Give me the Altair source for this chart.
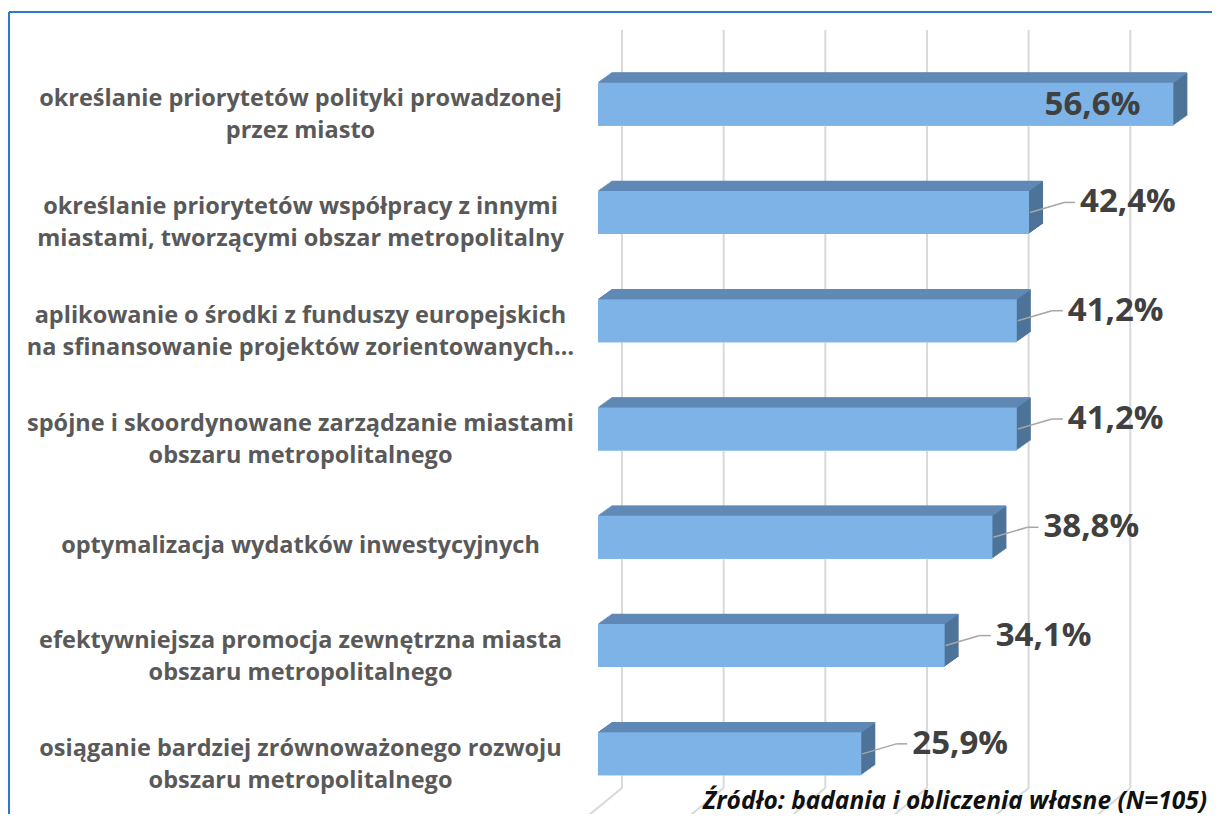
import altair as alt
import pandas as pd

categories = [
    "określanie priorytetów polityki prowadzonej|przez miasto",
    "określanie priorytetów współpracy z innymi|miastami, tworzącymi obszar metropolitalny",
    "aplikowanie o środki z funduszy europejskich|na sfinansowanie projektów zorientowanych…",
    "spójne i skoordynowane zarządzanie miastami |obszaru metropolitalnego",
    "optymalizacja wydatków inwestycyjnych",
    "efektywniejsza promocja zewnętrzna miasta|obszaru metropolitalnego",
    "osiąganie bardziej zrównoważonego rozwoju|obszaru metropolitalnego",
]
values = [56.6, 42.4, 41.2, 41.2, 38.8, 34.1, 25.9]
grid_ticks = [0, 10, 20, 30, 40, 50]
source_text = ["Źródło: badania i obliczenia własne (N=105)"]

df = pd.DataFrame({"cat": categories, "value": values})
ticks = pd.DataFrame({"tick": grid_ticks})
src = pd.DataFrame({"t": source_text})

W, H = 614, 758
FRONT = "#7db3e7"
TOP = "#6089b6"
SIDE = "#4d7398"
BAR_H = 43
D, DH = 14, 10
N = 10

xs = alt.Scale(domain=[0, 60.4], nice=False, zero=True)
ys = alt.Scale(domain=categories, range=[20, 778], paddingInner=0, paddingOuter=0)

y_axis = alt.Axis(labelExpr="split(datum.label, '|')", labelAlign="center",
                  labelPadding=298, ticks=False, domain=False, labelLimit=700,
                  labelFont="Open Sans", labelFontWeight="bold", labelFontSize=23.5,
                  labelColor="#595959", labelLineHeight=32, labelBaseline="middle",
                  labelOffset={"condition": {"test": "indexof(datum.value, '|') >= 0", "value": -5},
                               "value": 9},
                  grid=False, title=None)

base = alt.Chart(df)
X = alt.X("value:Q", scale=xs, axis=None)
Y = alt.Y("cat:N", scale=ys, sort=categories, title=None, axis=y_axis)
Yc = alt.Y("cat:N", scale=ys, sort=categories, title=None, axis=y_axis, bandPosition=0.5)

front = base.mark_bar(color=FRONT, height=BAR_H).encode(x=X, y=Y)

# gridlines (back wall) and floor diagonals
grid = alt.Chart(ticks).mark_rule(color="#d9d9d9", strokeWidth=2, xOffset=24).encode(
    x=alt.X("tick:Q", scale=xs, axis=None), y=alt.value(0), y2=alt.value(H))
floor = alt.Chart(ticks).mark_rule(color="#d9d9d9", strokeWidth=2, xOffset=24, x2Offset=-9).encode(
    x=alt.X("tick:Q", scale=xs, axis=None), x2="tick:Q", y=alt.value(H), y2=alt.value(H + 27))

back = []
# side faces (stacked offset copies)
for k in range(1, N + 1):
    off = k * D / N
    back.append(base.mark_bar(color=SIDE, height=BAR_H, xOffset=off, x2Offset=off,
                              yOffset=-k * DH / N).encode(x=X, y=Y))
# top faces (thin slices)
for k in range(1, N + 1):
    off = (k - 0.5) * D / N
    back.append(base.mark_bar(color=TOP, height=DH / N + 0.6, xOffset=off, x2Offset=off,
                              yOffset=-(BAR_H / 2 + (k - 0.5) * DH / N)).encode(x=X, y=Y))

lab = base.transform_calculate(
    txt="replace(format(datum.value, '.1f'), '.', ',') + '%'")
outer = lab.transform_filter("datum.value < 50")
inner = lab.transform_filter("datum.value >= 50")

leader1 = outer.mark_rule(color="#a6a6a6", strokeWidth=1.5, xOffset=1, x2Offset=35, y2Offset=-10).encode(
    x=X, x2="value:Q", y=Yc, y2=alt.Y2("cat:N", bandPosition=0.5))
leader2 = outer.mark_rule(color="#a6a6a6", strokeWidth=1.5, xOffset=35, x2Offset=46, yOffset=-10).encode(
    x=X, x2="value:Q", y=Y)

txt_style = dict(font="Open Sans", fontWeight="bold", fontSize=33, color="#404040", baseline="middle")
t_out = outer.mark_text(align="left", dx=51, dy=-10, **txt_style).encode(x=X, y=Y, text="txt:N")
t_in = inner.mark_text(align="right", dx=-33, dy=1, **txt_style).encode(x=X, y=Y, text="txt:N")

source = alt.Chart(src).mark_text(align="right", baseline="alphabetic", font="Open Sans",
                                  fontStyle="italic", fontWeight="bold", fontSize=24.5,
                                  color="#111111").encode(
    text="t:N", x=alt.value(W - 5), y=alt.value(H + 21))

# picture frame
frame_top = alt.Chart(ticks).mark_rule(color="#2a78d0", strokeWidth=2).encode(
    x=alt.value(-589), x2=alt.value(W), y=alt.value(-18))
frame_left = alt.Chart(ticks).mark_rule(color="#2a78d0", strokeWidth=2).encode(
    x=alt.value(-589), y=alt.value(-18), y2=alt.value(H + 40))

layers = [front, grid, floor] + back + [front, leader1, leader2, t_out, t_in, source,
                                        frame_top, frame_left]

chart = alt.layer(*layers).properties(
    width=W, height=H,
    autosize=alt.AutoSizeParams(type="none"),
    padding={"left": 590, "top": 22, "right": 0, "bottom": 26},
).configure_view(stroke=None)

chart.save("out.html", embed_options={"renderer": "svg", "actions": False})
